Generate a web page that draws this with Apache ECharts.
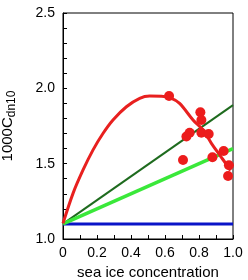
<!DOCTYPE html>
<html>
<head>
<meta charset="utf-8">
<script src="https://cdn.jsdelivr.net/npm/echarts@6/dist/echarts.min.js"></script>
<style>html,body{margin:0;padding:0;background:#fff}#c{width:248px;height:280px}</style>
</head>
<body>
<div id="c"></div>
<script>
// observed points (sea ice concentration, 1000 Cdn10)
const obsX = [0.624, 0.808, 0.814, 0.745, 0.726, 0.814, 0.857, 0.706, 0.879, 0.945, 0.976, 0.971];
const obsY = [1.949, 1.841, 1.790, 1.705, 1.680, 1.705, 1.697, 1.524, 1.542, 1.584, 1.490, 1.418];
// red parameterisation curve
const curveX = [0, 0.059, 0.118, 0.176, 0.235, 0.294, 0.373, 0.451, 0.51, 0.58, 0.635, 0.686, 0.765, 0.824, 0.873, 0.922, 0.971, 0.985];
const curveY = [1.104, 1.303, 1.458, 1.59, 1.70, 1.79, 1.878, 1.934, 1.949, 1.948, 1.935, 1.90, 1.79, 1.723, 1.635, 1.557, 1.48, 1.455];
// straight lines
const lineX = [0, 1];
const darkGreenY = [1.1, 1.889];
const lightGreenY = [1.1, 1.6];
const blueY = [1.1, 1.1];
const xTicks = ['0', '0.2', '0.4', '0.6', '0.8', '1.0'];

const pairs = (xs, ys) => xs.map((x, i) => [x, ys[i]]);
const font = 'Liberation Sans, Arial, Helvetica, sans-serif';

const chart = echarts.init(document.getElementById('c'), null, {renderer: 'canvas'});
chart.setOption({
  animation: false,
  backgroundColor: '#fff',
  grid: {left: 63, right: 15, top: 13, bottom: 41, containLabel: false, outerBoundsMode: 'none',
    show: true, borderColor: '#000', borderWidth: 1, backgroundColor: 'transparent'},
  xAxis: {
    type: 'value', min: 0, max: 1, interval: 0.2,
    axisLine: {show: true, onZero: false, lineStyle: {color: '#000', width: 1}},
    axisTick: {show: true, inside: true, length: 4, lineStyle: {color: '#000'}},
    minorTick: {show: true, splitNumber: 2, length: 4, lineStyle: {color: '#000'}},
    splitLine: {show: false},
    axisLabel: {color: '#000', fontSize: 14, fontFamily: font, margin: 7,
      formatter: v => xTicks[Math.round(v / 0.2)]},
    name: 'sea ice concentration', nameLocation: 'middle', nameGap: 23,
    nameTextStyle: {color: '#000', fontSize: 15, fontFamily: font}
  },
  yAxis: {
    type: 'value', min: 1.0, max: 2.5, interval: 0.5,
    axisLine: {show: true, onZero: false, lineStyle: {color: '#000', width: 1}},
    axisTick: {show: true, inside: true, length: 4, lineStyle: {color: '#000'}},
    minorTick: {show: true, splitNumber: 5, length: 4, lineStyle: {color: '#000'}},
    splitLine: {show: false},
    axisLabel: {color: '#000', fontSize: 14, fontFamily: font, margin: 8, formatter: v => v.toFixed(1)},
    name: '{m|1000C}{s|dn10}', nameLocation: 'middle', nameGap: 48,
    nameTextStyle: {color: '#000', fontFamily: font,
      rich: {m: {fontSize: 15, fontFamily: font, color: '#000', verticalAlign: 'bottom'},
             s: {fontSize: 12, fontFamily: font, color: '#000', verticalAlign: 'bottom', padding: [0, 0, -3, 0]}}}
  },
  series: [
    {type: 'line', data: pairs(lineX, blueY), symbol: 'none', lineStyle: {color: '#0a14c8', width: 3}, z: 2},
    {type: 'line', data: pairs(lineX, darkGreenY), symbol: 'none', lineStyle: {color: '#1e6b1e', width: 2}, z: 3},
    {type: 'line', data: pairs(lineX, lightGreenY), symbol: 'none', lineStyle: {color: '#3ae83a', width: 3.5}, z: 3},
    {type: 'line', data: pairs(curveX, curveY), symbol: 'none', smooth: 0.3, lineStyle: {color: '#e8201f', width: 3}, z: 4},
    {type: 'scatter', data: pairs(obsX, obsY), symbol: 'circle', symbolSize: 10, itemStyle: {color: '#ec1c1c', opacity: 1}, z: 5}
  ]
});
</script>
</body>
</html>
